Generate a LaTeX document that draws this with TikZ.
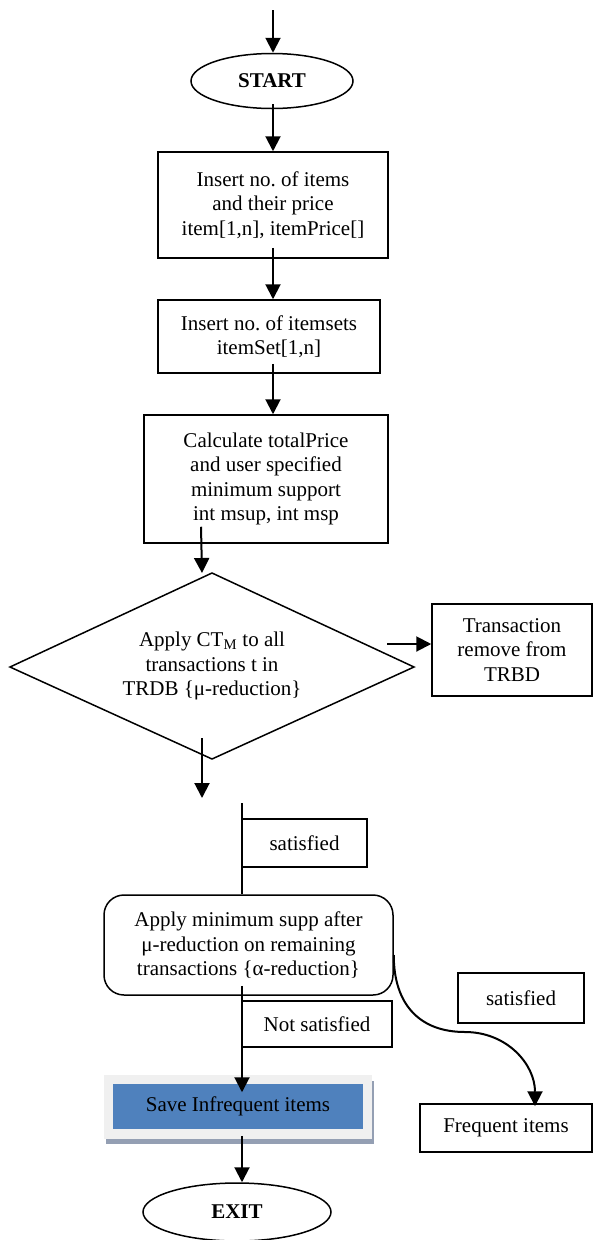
\documentclass[tikz,border=0pt]{standalone}
\usepackage{fontspec}
\setmainfont{Liberation Serif}
\usetikzlibrary{shapes.geometric,arrows.meta,backgrounds}
\definecolor{saveblue}{HTML}{4F81BD}
\definecolor{saveframe}{HTML}{F0F0F0}
\definecolor{saveshadow}{HTML}{949FB3}
\frenchspacing
\tikzset{
  base/.style={font=\fontsize{21}{24.5}\selectfont, align=center, inner sep=0pt, line width=1.5pt},
  boxnode/.style={base, draw, rectangle},
  termnode/.style={base, draw, ellipse, font=\fontsize{21}{24.5}\selectfont\bfseries},
  arrowline/.style={line width=2pt, -{Triangle[width=15pt,length=15pt]}},
  plainline/.style={line width=2pt},
  diaborder/.style={line width=1.5pt, line join=miter},
}
\begin{document}
\begin{tikzpicture}[x=1pt,y=-1pt]
\useasboundingbox (0,0) rectangle (593,1240);
% nodes
\node[termnode, minimum width=162pt, minimum height=55pt] (start) at (272,81) {START};
\node[boxnode, minimum width=230pt, minimum height=106pt] (b1) at (273,205) {Insert no. of items\\and their price\\item[1,n], itemPrice[]};
\node[boxnode, minimum width=222pt, minimum height=73pt] (b2) at (269,336.5) {Insert no. of itemsets\\itemSet[1,n]};
\node[boxnode, minimum width=244pt, minimum height=128pt] (b3) at (266,479) {Calculate totalPrice\\and user specified\\minimum support\\int msup, int msp};
% decision diamond
\coordinate (dT) at (212,573);
\coordinate (dR) at (414,667);
\coordinate (dB) at (212,759);
\coordinate (dL) at (10,667);
\draw[diaborder] (dT) -- (dR) -- (dB) -- (dL) -- cycle;
\node[base] (dia) at (212,666) {Apply CT\textsubscript{M} to all\\transactions t in\\TRDB \{μ-reduction\}};
\node[boxnode, minimum width=160pt, minimum height=92pt] (trbd) at (512,650) {Transaction\\remove from\\TRBD};
\coordinate (c1) at (202,798);
\coordinate (c2) at (242,803);
\node[boxnode, minimum width=125pt, minimum height=48pt] (sat1) at (304.5,843) {satisfied};
\node[boxnode, rounded corners=20pt, minimum width=289pt, minimum height=100pt] (rb) at (248.5,945) {Apply minimum supp after\\μ-reduction on remaining\\transactions \{α-reduction\}};
\node[boxnode, minimum width=150pt, minimum height=46pt] (notsat) at (317,1024) {Not satisfied};
\node[base, fill=saveblue, minimum width=250pt, minimum height=45pt] (save) at (238,1106.5) {Save Infrequent items};
\node[termnode, minimum width=188pt, minimum height=58pt] (exit) at (237,1212) {EXIT};
\node[boxnode, minimum width=126pt, minimum height=50pt] (sat2) at (521,998) {satisfied};
\node[boxnode, minimum width=172pt, minimum height=48pt] (freq) at (506,1128) {Frequent items};
\coordinate (top) at (273,10);
\coordinate (bend) at (465,1032);
% save box frame and shadow
\begin{scope}[on background layer]
\fill[saveshadow] ([xshift=-6pt,yshift=2pt]save.north west) rectangle ([xshift=10pt,yshift=-14pt]save.south east);
\fill[saveframe] ([xshift=-8pt,yshift=8pt]save.north west) rectangle ([xshift=8pt,yshift=-9pt]save.south east);
\end{scope}
% connectors
\draw[arrowline] (top) -- ([xshift=1pt]start.north);
\draw[arrowline] ([xshift=1pt,yshift=5pt]start.south) -- (b1.north);
\draw[arrowline] ([yshift=11pt]b1.south) -- ([xshift=4pt]b2.north);
\draw[arrowline] ([xshift=4pt,yshift=10pt]b2.south) -- ([xshift=7pt]b3.north);
\draw[arrowline] ([xshift=-65pt,yshift=17pt]b3.south) -- ([xshift=-10pt]dT);
\draw[arrowline] ([xshift=-27pt,yshift=23pt]dR) -- ([yshift=6pt]trbd.west);
\draw[arrowline] ([xshift=-10pt,yshift=21pt]dB) -- (c1);
\draw[plainline] (c2) -- ([xshift=-6.5pt]rb.north);
\draw[arrowline] ([xshift=-6.5pt,yshift=10pt]rb.south) -- ([xshift=4pt,yshift=-9pt]save.north);
\draw[arrowline] ([xshift=4pt,yshift=-6pt]save.south) -- ([xshift=5pt]exit.north);
\draw[arrowline] ([yshift=-10pt]rb.east) .. controls +(0,50) and +(-45,0) .. (bend) .. controls +(42,0) and +(0,-42) .. ([xshift=29pt,yshift=-3pt]freq.north);
\end{tikzpicture}
\end{document}
